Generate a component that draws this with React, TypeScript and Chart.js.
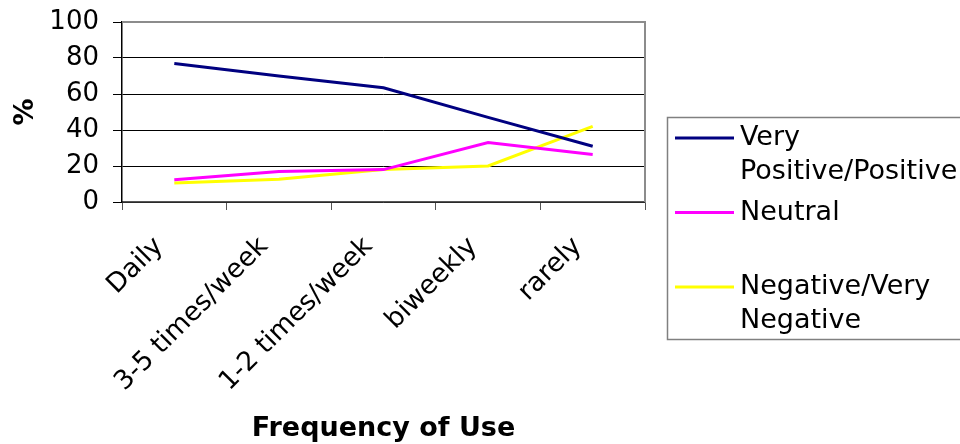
import React, { useEffect, useRef } from "react";
import { Chart, registerables } from "chart.js";

Chart.register(...registerables);

const categories = ["Daily", "3-5 times/week", "1-2 times/week", "biweekly", "rarely"];
const veryPositive = [77, 70, 63.5, 47, 31];
const neutral = [12.3, 17, 18, 33, 26.4];
const negative = [10.6, 12.7, 18, 20, 42];
const seriesLabels = ["Very Positive/Positive", "Neutral", "Negative/Very Negative"];
const legendLines = [["Very", "Positive/Positive"], ["Neutral"], ["Negative/Very", "Negative"]];
const yTicks = [0, 20, 40, 60, 80, 100];

const FONT = "Verdana, 'DejaVu Sans', sans-serif";

const frame = {
  id: "frame",
  afterDraw(chart: any) {
    const { ctx, chartArea: a } = chart;
    ctx.save();
    ctx.strokeStyle = "#8c8c8c";
    ctx.lineWidth = 2;
    ctx.beginPath();
    ctx.moveTo(a.left, a.top);
    ctx.lineTo(a.right, a.top);
    ctx.lineTo(a.right, a.bottom);
    ctx.stroke();
    // legend
    const bx = 667, by = 117, bw = 310, bh = 222;
    ctx.strokeStyle = "#808080";
    ctx.lineWidth = 1.5;
    ctx.strokeRect(bx + 0.5, by + 0.5, bw, bh);
    ctx.font = "27px " + FONT;
    ctx.textBaseline = "middle";
    ctx.textAlign = "left";
    ctx.fillStyle = "#000";
    chart.data.datasets.forEach((ds: any, i: number) => {
      const y0 = 138 + i * 74.5;
      ctx.strokeStyle = ds.borderColor;
      ctx.lineWidth = 3;
      ctx.beginPath();
      ctx.moveTo(675, y0);
      ctx.lineTo(734, y0);
      ctx.stroke();
      legendLines[i].forEach((t, j) => ctx.fillText(t, 740, y0 + j * 33.5));
    });
    ctx.restore();
  },
};

export default function App() {
  const ref = useRef<HTMLCanvasElement>(null);
  useEffect(() => {
    document.body.style.margin = "0";
    const chart = new Chart(ref.current!, {
      type: "line",
      data: {
        labels: categories,
        datasets: [
          { label: seriesLabels[0], data: veryPositive, borderColor: "#000080", borderWidth: 3, pointRadius: 0, tension: 0 },
          { label: seriesLabels[1], data: neutral, borderColor: "#ff00ff", borderWidth: 3, pointRadius: 0, tension: 0 },
          { label: seriesLabels[2], data: negative, borderColor: "#ffff00", borderWidth: 3, pointRadius: 0, tension: 0 },
        ],
      },
      options: {
        animation: false,
        responsive: false,
        layout: { padding: { top: 22, right: 315, left: 0, bottom: 0 } },
        plugins: { legend: { display: false }, tooltip: { enabled: false } },
        scales: {
          x: {
            offset: true,
            grid: { offset: true, drawOnChartArea: false, drawTicks: true, tickLength: 8, color: "#555" },
            border: { color: "#555", width: 1.5 },
            ticks: { color: "#000", font: { family: FONT, size: 26.5 }, minRotation: 45, maxRotation: 45, padding: 21, labelOffset: -15, autoSkip: false },
            title: { display: true, text: "Frequency of Use", color: "#000", font: { family: FONT, size: 27, weight: "bold" }, padding: { top: 0, bottom: -1 } },
            afterFit: (s: any) => { s.height = 242; s.paddingLeft = 0; s.paddingRight = 0; },
          },
          y: {
            min: 0,
            max: 100,
            afterBuildTicks: (s: any) => { s.ticks = yTicks.map((v) => ({ value: v })); },
            grid: { color: "#000", lineWidth: 1, tickLength: 9 },
            border: { color: "#000", width: 1.5 },
            ticks: { color: "#000", font: { family: FONT, size: 26 }, padding: 14 },
            title: { display: true, text: "%", color: "#000", font: { family: FONT, size: 27, weight: "bold" }, padding: { top: 10, bottom: 0 } },
            afterFit: (s: any) => { s.width = 122; s.paddingTop = 0; s.paddingBottom = 0; },
          },
        },
      },
      plugins: [frame],
    });
    return () => chart.destroy();
  }, []);
  return (
    <div style={{ width: 960, height: 444 }}>
      <canvas ref={ref} width={960} height={444} style={{ width: 960, height: 444 }} />
    </div>
  );
}
